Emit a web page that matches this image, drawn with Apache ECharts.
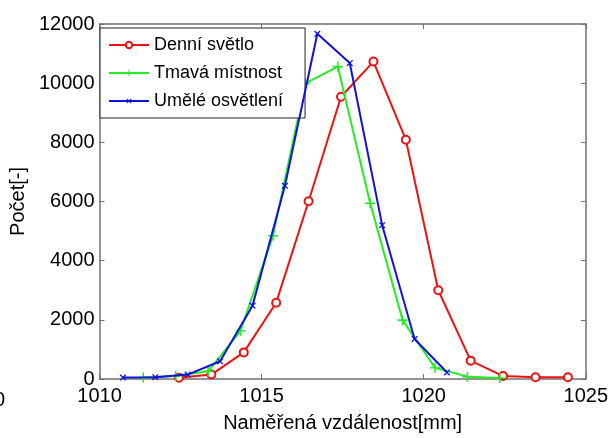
<!DOCTYPE html>
<html>
<head>
<meta charset="utf-8">
<script src="https://cdn.jsdelivr.net/npm/echarts@6/dist/echarts.min.js"></script>
<style>html,body{margin:0;padding:0;background:#fff;}#c{width:611px;height:438px;}</style>
</head>
<body>
<div id="c"></div>
<script>
const seriesNames = ['Denní světlo', 'Tmavá místnost', 'Umělé osvětlení'];
const xTicks = [1010, 1015, 1020, 1025];
const yTicks = [0, 2000, 4000, 6000, 8000, 10000, 12000];

const redX = [1012.45, 1013.45, 1014.45, 1015.45, 1016.45, 1017.45, 1018.45, 1019.45, 1020.45, 1021.45, 1022.45, 1023.45, 1024.45];
const redY = [40, 150, 900, 2580, 6010, 9540, 10730, 8090, 3000, 620, 100, 60, 60];

const greenX = [1011.35, 1012.35, 1013.35, 1014.35, 1015.35, 1016.35, 1017.35, 1018.35, 1019.35, 1020.35, 1021.35, 1022.35];
const greenY = [50, 100, 260, 1630, 4840, 9990, 10560, 5940, 1990, 380, 80, 30];

const blueX = [1010.72, 1011.72, 1012.72, 1013.72, 1014.72, 1015.72, 1016.72, 1017.72, 1018.72, 1019.72, 1020.72];
const blueY = [50, 60, 150, 600, 2480, 6530, 11670, 10680, 5200, 1350, 220];

const zip = (xs, ys) => xs.map((x, i) => [x, ys[i]]);
const FONT = 'Liberation Sans, Arial, sans-serif';
const AX = '#707070';
const plusPath = 'path://M4.2,0h1.6v4.2h4.2v1.6h-4.2v4.2h-1.6v-4.2h-4.2v-1.6h4.2z';

const chart = echarts.init(document.getElementById('c'), null, {renderer: 'canvas'});
const axisCommon = {
  type: 'value', min: 1010, max: 1025, interval: 5,
  axisLine: {onZero: false, lineStyle: {color: AX, width: 1.5}},
  axisTick: {inside: true, length: 5, lineStyle: {color: AX, width: 1}},
  splitLine: {show: false}
};
chart.setOption({
  animation: false,
  backgroundColor: '#fff',
  grid: {left: 98, right: 24, top: 24, bottom: 56, containLabel: false},
  legend: {
    left: 100, top: 28,
    orient: 'vertical',
    backgroundColor: '#fff',
    borderColor: '#222', borderWidth: 1,
    padding: [7, 22, 7, 8],
    itemWidth: 40, itemHeight: 8, itemGap: 8,
    textStyle: {fontFamily: FONT, fontSize: 18, color: '#000', lineHeight: 20},
    data: seriesNames
  },
  xAxis: [
    Object.assign({}, axisCommon, {
      position: 'bottom',
      axisLabel: {fontFamily: FONT, fontSize: 20, color: '#000', margin: 7,
        formatter: v => xTicks.includes(v) ? String(v) : ''},
      name: 'Naměřená vzdálenost[mm]', nameLocation: 'middle', nameGap: 34,
      nameTextStyle: {fontFamily: FONT, fontSize: 20, color: '#000'}
    }),
    Object.assign({}, axisCommon, {position: 'top', axisLabel: {show: false}})
  ],
  yAxis: [
    {
      type: 'value', min: 0, max: 12000, interval: 2000, position: 'left',
      axisLine: {show: true, onZero: false, lineStyle: {color: AX, width: 1.5}},
      axisTick: {show: true, inside: true, length: 5, lineStyle: {color: AX, width: 1}},
      splitLine: {show: false},
      axisLabel: {fontFamily: FONT, fontSize: 20, color: '#000', margin: 5,
        formatter: v => yTicks.includes(v) ? String(v) : ''},
      name: 'Počet[-]', nameLocation: 'middle', nameGap: 66,
      nameTextStyle: {fontFamily: FONT, fontSize: 20, color: '#000'}
    },
    {
      type: 'value', min: 0, max: 12000, interval: 2000, position: 'right',
      axisLine: {show: true, onZero: false, lineStyle: {color: AX, width: 1.5}},
      axisTick: {show: true, inside: true, length: 5, lineStyle: {color: AX, width: 1}},
      splitLine: {show: false},
      axisLabel: {show: false}
    }
  ],
  graphic: [
    {type: 'text', left: -6, top: 390, style: {text: '0', font: '20px ' + FONT, fill: '#000'}}
  ],
  series: [
    {
      name: seriesNames[0], type: 'line', data: zip(redX, redY),
      symbol: 'emptyCircle', symbolSize: 8, showAllSymbol: true,
      lineStyle: {color: '#ee1111', width: 2},
      itemStyle: {color: '#ee1111', borderColor: '#ee1111', borderWidth: 1.5},
      z: 2
    },
    {
      name: seriesNames[1], type: 'line', data: zip(greenX, greenY),
      symbol: plusPath, symbolSize: 10, showAllSymbol: true,
      lineStyle: {color: '#22ee22', width: 2},
      itemStyle: {color: '#22ee22', borderWidth: 0},
      z: 3
    },
    {
      name: seriesNames[2], type: 'line', data: zip(blueX, blueY),
      symbol: plusPath, symbolSize: 8, symbolRotate: 45, showAllSymbol: true,
      lineStyle: {color: '#1111dd', width: 2},
      itemStyle: {color: '#1111dd', borderWidth: 0},
      z: 4
    }
  ]
});
</script>
</body>
</html>
